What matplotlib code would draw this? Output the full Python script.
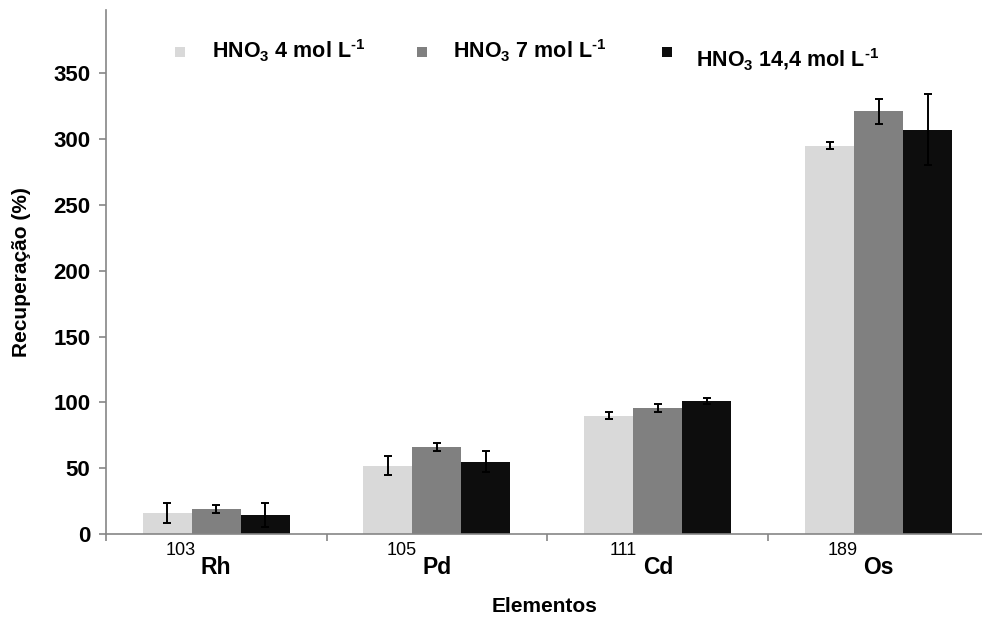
import matplotlib
matplotlib.use("Agg")
import matplotlib.pyplot as plt
import matplotlib.transforms as mtransforms
from matplotlib.patches import Rectangle
import numpy as np

plt.rcParams['font.family'] = ['Liberation Sans', 'DejaVu Sans']
plt.rcParams['mathtext.fontset'] = 'custom'
plt.rcParams['mathtext.rm'] = 'Liberation Sans'
plt.rcParams['mathtext.bf'] = 'Liberation Sans:bold'
plt.rcParams['mathtext.it'] = 'Liberation Sans:italic'

# ---- data ----
elements = ["Rh", "Pd", "Cd", "Os"]
mass_numbers = ["103", "105", "111", "189"]
series_labels = ["$\\mathbf{HNO_3\\ 4\\ mol\\ L^{\N{HYPHEN}1}}$",
                 "$\\mathbf{HNO_3\\ 7\\ mol\\ L^{\N{HYPHEN}1}}$",
                 "$\\mathbf{HNO_3\\ 14{,}4\\ mol\\ L^{\N{HYPHEN}1}}$"]
hno3_4 = [16, 52, 90, 295]
hno3_4_err = [7.5, 7.5, 2.5, 2.5]
hno3_7 = [19, 66, 96, 321]
hno3_7_err = [3, 3, 3, 9.5]
hno3_14 = [14.5, 55, 101, 307]
hno3_14_err = [9, 8, 2.5, 27]
yticks = [0, 50, 100, 150, 200, 250, 300, 350]

series = [hno3_4, hno3_7, hno3_14]
errors = [hno3_4_err, hno3_7_err, hno3_14_err]
colors = ["#D9D9D9", "#808080", "#0D0D0D"]

W, H = 982, 624
fig = plt.figure(figsize=(W / 100, H / 100), dpi=100)
ax = fig.add_axes([105.7 / W, 1 - 534 / H, (989 - 105.7) / W, (534 - 10) / H])

x = np.arange(len(elements)) + 0.5
bw = 0.222
for k, (vals, errs, c) in enumerate(zip(series, errors, colors)):
    ax.bar(x + (k - 1) * bw, vals, width=bw, color=c, edgecolor='none', zorder=2)
    ax.errorbar(x + (k - 1) * bw, vals, yerr=errs, fmt='none', ecolor='black',
                elinewidth=1.4, capsize=3.2, capthick=1.4, zorder=3)

ax.set_xlim(0, len(elements))
ax.set_ylim(0, 398)
ax.set_yticks(yticks)
ax.set_yticklabels([str(v) for v in yticks], fontsize=16, fontweight='bold')
ax.set_xticks(np.arange(len(elements) + 1))
ax.set_xticklabels([])
for s in ['top', 'right']:
    ax.spines[s].set_visible(False)
for s in ['left', 'bottom']:
    ax.spines[s].set_color('#868686')
    ax.spines[s].set_linewidth(1.2)
ax.tick_params(axis='both', direction='out', length=5, width=1.2, color='#868686')
ax.tick_params(axis='y', pad=6)

# category labels (mass number + element)
trans = mtransforms.blended_transform_factory(ax.transData, fig.transFigure)
for xi, el, m in zip(x, elements, mass_numbers):
    t = ax.text(xi, 1 - 568 / H, el, transform=trans, ha='center', va='center',
                fontsize=16.5, fontweight='bold')
    ax.annotate(m, xy=(0, 1), xycoords=t, xytext=(-4, 4), textcoords='offset points',
                ha='right', va='center', fontsize=13)

fig.text(545 / W, 1 - 607 / H, "Elementos", ha='center', va='center',
         fontsize=15, fontweight='bold')
fig.text(22 / W, 1 - 272 / H, "Recuperação (%)", ha='center', va='center',
         rotation=90, fontsize=15, fontweight='bold')

# legend (manual)
marker_x = [175, 417, 662]
text_x = [212, 453, 696]
text_y = [51, 51, 60]
for mx, tx, ty, lab, c in zip(marker_x, text_x, text_y, series_labels, colors):
    fig.patches.append(Rectangle((mx / W, 1 - 57 / H), 10 / W, 10 / H,
                                 transform=fig.transFigure, facecolor=c,
                                 edgecolor='none'))
    fig.text(tx / W, 1 - ty / H, lab, ha='left', va='center', fontsize=15.5)

fig.savefig("out.png", dpi=100)
